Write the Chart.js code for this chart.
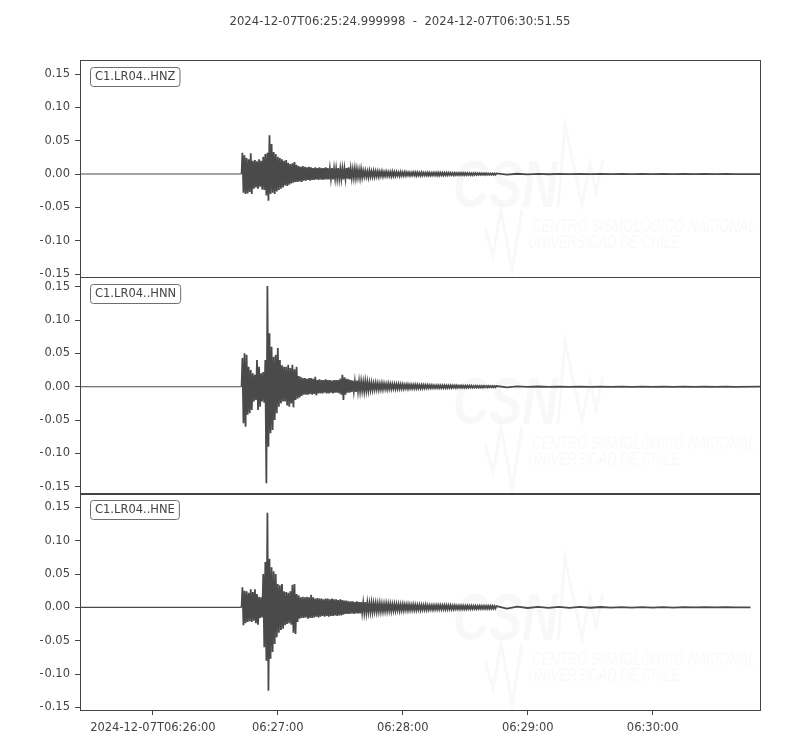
<!DOCTYPE html>
<html>
<head>
<meta charset="utf-8">
<title>C1.LR04 waveforms</title>
<script src="https://cdn.jsdelivr.net/npm/chart.js@4.4.1/dist/chart.umd.min.js"></script>
<style>
  html, body { margin: 0; padding: 0; background: #fff; }
  canvas { display: block; }
</style>
</head>
<body>
<canvas id="traces" width="800" height="750"></canvas>
<script>
// seconds since 2024-12-07T06:25:24.999998
const titleText = '2024-12-07T06:25:24.999998  -  2024-12-07T06:30:51.55';
const channels = ['C1.LR04..HNZ', 'C1.LR04..HNN', 'C1.LR04..HNE'];
const onsetSecs = [77.6, 77.6, 77.6];
const endSecs = [326.55, 326.55, 322];
const xTickSecs = [35, 95, 155, 215, 275];
const xTickLabels = ['2024-12-07T06:26:00', '06:27:00', '06:28:00', '06:29:00', '06:30:00'];
const yTicks = [-0.15, -0.10, -0.05, 0, 0.05, 0.10, 0.15];
const yMins = [-0.154, -0.160, -0.154];
const yMaxs = [0.171, 0.165, 0.171];

// envelope samples (upper / lower peak)
const gridSecs = [78, 79, 80, 81, 82, 83, 84, 85, 86, 87,
  88, 89, 90, 91, 92, 93, 94, 95, 96, 97,
  98, 99, 100, 101, 102, 103, 104, 105, 106, 107,
  108, 109, 110, 111, 112, 113, 114, 115, 116, 117,
  118, 119, 120, 121, 122, 123, 124, 125, 126, 127,
  128, 129, 130,
  131, 132, 133, 134, 135, 136, 137, 138, 139, 140,
  141, 142, 143, 144, 145, 146, 147, 148, 149, 150,
  151, 152, 153, 154, 155, 156, 157, 158, 159, 160,
  161, 162, 163, 164, 165, 166, 167, 168, 169, 170,
  171, 172, 173, 174, 175, 176, 177, 178, 179, 180,
  181, 182, 183, 184, 185, 186, 187, 188, 189, 190,
  191, 192, 193, 194, 195, 196, 197, 198, 199, 200,
  210, 220, 230, 240, 250, 260, 270, 280, 290, 300, 310];

const hnzHi = [.032, .028, .024, .022, .031, .020, .021, .019, .022, .020,
  .026, .030, .032, .058, .045, .033, .030, .026, .024, .022,
  .020, .021, .017, .015, .016, .018, .014, .012, .011, .012,
  .011, .010, .011, .010, .009, .010, .009, .010, .009, .009,
  .010, .009, .008, .009, .008, .008, .009, .008, .008, .008,
  .009, .010, .008,
  .007, .008, .007, .006, .007, .005, .005, .004, .005, .004,
  .0045, .004, .004, .0035, .004, .003, .0035, .003, .003, .0035,
  .003, .003, .0025, .003, .0025, .003, .0025, .0025, .002, .0025,
  .0025, .0025, .002, .0025, .002, .002, .0022, .002, .002, .002,
  .002, .0022, .002, .002, .0018, .002, .002, .0018, .0015, .0018,
  .0015, .0015, .0018, .0015, .0015, .0015, .0015, .0012, .0015, .0015,
  .0012, .0012, .0012, .001, .0012, .001, .001, .001, .001, .001,
  .0004, .0003, .0002, .0002, .0002, .0002, .0002, .0002, .0002, .0002, .0002];
const hnzLo = [-.028, -.030, -.029, -.027, -.030, -.022, -.020, -.022, -.019, -.023,
  -.024, -.032, -.040, -.030, -.028, -.030, -.026, -.024, -.022, -.020,
  -.017, -.018, -.016, -.014, -.013, -.012, -.012, -.011, -.012, -.010,
  -.010, -.009, -.010, -.009, -.009, -.008, -.009, -.008, -.009, -.008,
  -.008, -.008, -.007, -.008, -.007, -.007, -.007, -.007, -.008, -.007,
  -.007, -.008, -.006,
  -.006, -.006, -.005, -.006, -.005, -.004, -.004, -.005, -.004, -.004,
  -.004, -.0035, -.004, -.003, -.0035, -.003, -.003, -.003, -.0035, -.003,
  -.003, -.0025, -.003, -.0025, -.0025, -.0025, -.002, -.0025, -.002, -.002,
  -.0025, -.002, -.0025, -.002, -.002, -.002, -.002, -.0022, -.002, -.002,
  -.002, -.002, -.0018, -.002, -.0018, -.0018, -.0015, -.0015, -.0018, -.0015,
  -.0015, -.0015, -.0015, -.0015, -.0015, -.0012, -.0015, -.0015, -.0012, -.0012,
  -.0012, -.0012, -.001, -.0012, -.001, -.001, -.001, -.001, -.001, -.001,
  -.0004, -.0003, -.0002, -.0002, -.0002, -.0002, -.0002, -.0002, -.0002, -.0002, -.0002];

const hnnHi = [.043, .050, .048, .030, .025, .020, .018, .040, .030, .020,
  .022, .040, .151, .080, .060, .045, .048, .058, .040, .032,
  .030, .030, .033, .028, .033, .026, .030, .016, .015, .013,
  .013, .012, .013, .013, .012, .015, .010, .011, .010, .010,
  .011, .010, .010, .009, .010, .010, .010, .012, .018, .014,
  .012, .011, .010,
  .009, .008, .009, .008, .008, .007, .008, .007, .006, .006,
  .005, .0055, .005, .0045, .005, .0045, .004, .0045, .004, .004,
  .004, .0035, .004, .0035, .0035, .003, .0035, .003, .003, .003,
  .003, .003, .0025, .0028, .0025, .0025, .0025, .0022, .0022, .002,
  .002, .0022, .002, .002, .002, .002, .0018, .002, .0018, .0018,
  .0018, .0015, .0018, .0015, .0015, .0015, .0015, .0015, .0012, .0015,
  .0012, .0012, .0012, .0012, .001, .0012, .001, .001, .001, .001,
  .0004, .0003, .0002, .0002, .0002, .0002, .0002, .0002, .0002, .0002, .0002];
const hnnLo = [-.055, -.060, -.042, -.040, -.035, -.022, -.020, -.035, -.030, -.022,
  -.024, -.145, -.090, -.070, -.065, -.050, -.040, -.030, -.025, -.022,
  -.022, -.028, -.030, -.025, -.031, -.020, -.018, -.016, -.014, -.012,
  -.012, -.012, -.011, -.012, -.011, -.013, -.010, -.010, -.010, -.009,
  -.010, -.010, -.009, -.010, -.009, -.009, -.010, -.012, -.020, -.012,
  -.009, -.009, -.008,
  -.007, -.008, -.007, -.007, -.006, -.007, -.006, -.006, -.005, -.005,
  -.0045, -.004, -.0045, -.004, -.004, -.0035, -.004, -.0035, -.0035, -.003,
  -.0035, -.003, -.003, -.003, -.003, -.0025, -.003, -.0025, -.0025, -.0025,
  -.0025, -.0025, -.0025, -.0025, -.0022, -.0022, -.002, -.0022, -.002, -.002,
  -.002, -.002, -.002, -.0018, -.002, -.0018, -.0018, -.0018, -.0015, -.0018,
  -.0015, -.0015, -.0015, -.0015, -.0015, -.0015, -.0012, -.0015, -.0012, -.0012,
  -.0012, -.0012, -.0012, -.001, -.0012, -.001, -.001, -.001, -.001, -.001,
  -.0004, -.0003, -.0002, -.0002, -.0002, -.0002, -.0002, -.0002, -.0002, -.0002, -.0002];

const hneHi = [.030, .025, .024, .022, .027, .023, .027, .020, .016, .015,
  .050, .068, .142, .073, .060, .054, .050, .035, .033, .035,
  .024, .023, .022, .024, .034, .035, .020, .018, .015, .016,
  .015, .016, .015, .019, .015, .013, .014, .013, .013, .012,
  .013, .013, .012, .013, .012, .012, .011, .012, .011, .010,
  .010, .009, .009,
  .009, .008, .009, .008, .008, .007, .008, .007, .006, .007,
  .006, .006, .0055, .006, .005, .005, .0055, .005, .005, .0045,
  .005, .0045, .0045, .004, .0045, .004, .004, .004, .0035, .004,
  .0035, .0035, .0035, .0035, .0032, .0035, .003, .003, .003, .003,
  .003, .003, .003, .0028, .003, .003, .0028, .0028, .0025, .0028,
  .0025, .0025, .0025, .0025, .0022, .0025, .0022, .0022, .0022, .0022,
  .002, .0022, .002, .002, .002, .002, .002, .002, .0018, .0018,
  .001, .0008, .0007, .0006, .0005, .0004, .0003, .0003, .0002, .0002, .0002];
const hneLo = [-.027, -.024, -.022, -.021, -.022, -.020, -.024, -.026, -.016, -.015,
  -.060, -.080, -.125, -.077, -.067, -.055, -.045, -.038, -.034, -.032,
  -.027, -.025, -.024, -.026, -.038, -.040, -.022, -.017, -.016, -.016,
  -.015, -.017, -.016, -.016, -.015, -.014, -.015, -.014, -.013, -.014,
  -.013, -.014, -.013, -.013, -.012, -.013, -.012, -.012, -.011, -.010,
  -.010, -.010, -.009,
  -.010, -.009, -.009, -.009, -.008, -.008, -.008, -.007, -.007, -.007,
  -.006, -.0065, -.006, -.006, -.006, -.0055, -.0055, -.005, -.0055, -.005,
  -.005, -.0045, -.005, -.0045, -.0045, -.004, -.0045, -.004, -.004, -.004,
  -.004, -.0035, -.004, -.0035, -.0035, -.0035, -.0035, -.003, -.0035, -.003,
  -.003, -.003, -.003, -.003, -.003, -.003, -.0028, -.0028, -.0028, -.0025,
  -.0025, -.0025, -.0025, -.0025, -.0025, -.0022, -.0025, -.0022, -.0022, -.0022,
  -.002, -.002, -.002, -.002, -.002, -.002, -.002, -.002, -.0018, -.0018,
  -.001, -.0008, -.0007, -.0006, -.0005, -.0004, -.0003, -.0003, -.0002, -.0002, -.0002];

const textColor = '#444';
const frameColor = '#444';
const traceColor = '#4a4a4a';
const font = { family: "'DejaVu Sans', sans-serif", size: 11.5 };
const yIds = ['yZ', 'yN', 'yE'];

// zigzag between upper and lower peaks so the trace reads as a dense waveform
function tracePoints(hi, lo, onset, end) {
  const pts = [{ x: 0, y: 0 }, { x: onset, y: 0 }];
  gridSecs.forEach((t, i) => {
    const next = i < gridSecs.length - 1 ? gridSecs[i + 1] : t + 10;
    pts.push({ x: t, y: hi[i] }, { x: t + (next - t) / 2, y: lo[i] });
  });
  pts.push({ x: end, y: 0 });
  return pts;
}

const traces = [[hnzHi, hnzLo], [hnnHi, hnnLo], [hneHi, hneLo]];
const datasets = traces.map((tr, i) => ({
  label: channels[i],
  data: tracePoints(tr[0], tr[1], onsetSecs[i], endSecs[i]),
  yAxisID: yIds[i],
  borderColor: traceColor,
  borderWidth: 1.8,
  borderJoinStyle: 'miter',
  pointRadius: 0,
  tension: 0,
  fill: false,
  // quiet stretches before the first arrival are a plain thin line
  segment: {
    borderWidth: c => (c.p0.parsed.y === 0 && c.p1.parsed.y === 0 ? 1.1 : 1.8)
  }
}));

function yAxis(i, weight) {
  return {
    type: 'linear',
    position: 'left',
    stack: 'traces',
    stackWeight: 1,
    weight: weight,
    min: yMins[i],
    max: yMaxs[i],
    afterBuildTicks: s => { s.ticks = yTicks.map(v => ({ value: v })); },
    afterFit: s => { s.width = 40; },
    ticks: {
      font: font,
      color: textColor,
      padding: 5,
      autoSkip: false,
      callback: v => (v < 0 ? '\u2212' + (-v).toFixed(2) : v.toFixed(2))
    },
    grid: { drawOnChartArea: false, tickLength: 5, color: frameColor },
    border: { display: false }
  };
}

const watermark = {
  id: 'watermark',
  beforeDatasetsDraw(chart) {
    const { ctx } = chart;
    ctx.save();
    ctx.fillStyle = 'rgba(0,0,0,0.028)';
    ctx.strokeStyle = 'rgba(0,0,0,0.028)';
    ctx.lineWidth = 3;
    yIds.forEach(id => {
      const top = chart.scales[id].top;
      ctx.font = "italic bold 66px 'Liberation Sans', sans-serif";
      ctx.fillText('CSN', 453, top + 147, 105);
      ctx.beginPath();
      ctx.moveTo(558, top + 147);
      ctx.lineTo(565, top + 65);
      ctx.lineTo(582, top + 145);
      ctx.lineTo(590, top + 103);
      ctx.lineTo(596, top + 133);
      ctx.lineTo(603, top + 100);
      ctx.moveTo(485, top + 168);
      ctx.lineTo(493, top + 195);
      ctx.lineTo(501, top + 150);
      ctx.lineTo(512, top + 210);
      ctx.lineTo(522, top + 150);
      ctx.stroke();
      ctx.font = "italic 19px 'Liberation Sans', sans-serif";
      ctx.fillText('CENTRO SISMOLÓGICO NACIONAL', 532, top + 172, 223);
      ctx.fillText('UNIVERSIDAD DE CHILE', 528, top + 188, 152);
    });
    ctx.restore();
  }
};

const frames = {
  id: 'frames',
  afterDraw(chart) {
    const { ctx, chartArea: a } = chart;
    ctx.save();
    ctx.lineWidth = 1;
    yIds.forEach((id, i) => {
      const s = chart.scales[id];
      ctx.strokeStyle = frameColor;
      ctx.strokeRect(Math.round(a.left) + 0.5, Math.round(s.top) + 0.5,
        Math.round(a.right - a.left), Math.round(s.bottom - s.top));
      // channel label box
      ctx.font = "11.5px 'DejaVu Sans', sans-serif";
      const w = ctx.measureText(channels[i]).width + 9;
      const bx = Math.round(a.left) + 10.5, by = Math.round(s.top) + 7.5;
      ctx.beginPath();
      ctx.roundRect(bx, by, w, 19, 3);
      ctx.fillStyle = '#fff';
      ctx.fill();
      ctx.strokeStyle = '#6e6e6e';
      ctx.stroke();
      ctx.fillStyle = textColor;
      ctx.textBaseline = 'middle';
      ctx.fillText(channels[i], bx + 4.5, by + 10);
    });
    ctx.restore();
  }
};

const ctx = document.getElementById('traces').getContext('2d');
const waveChart = new Chart(ctx, {
  type: 'line',
  data: { datasets: datasets },
  options: {
    responsive: false,
    animation: false,
    parsing: false,
    layout: { padding: { left: 40, right: 40, top: 0, bottom: 0 } },
    plugins: {
      legend: { display: false },
      tooltip: { enabled: false },
      title: {
        display: true,
        text: titleText,
        color: textColor,
        font: { family: font.family, size: 11.7, weight: 'normal' },
        padding: { top: 15, bottom: 31 }
      }
    },
    scales: {
      x: {
        type: 'linear',
        min: 0,
        max: 326.55,
        afterBuildTicks: s => { s.ticks = xTickSecs.map(v => ({ value: v })); },
        afterFit: s => { s.height = 40; },
        ticks: {
          font: font,
          color: textColor,
          padding: 6,
          maxRotation: 0,
          autoSkip: false,
          callback: (v, i) => xTickLabels[i]
        },
        grid: { drawOnChartArea: false, tickLength: 5, color: frameColor },
        border: { display: false }
      },
      yE: yAxis(2, 1),
      yN: yAxis(1, 2),
      yZ: yAxis(0, 3)
    }
  },
  plugins: [watermark, frames]
});
</script>
</body>
</html>
